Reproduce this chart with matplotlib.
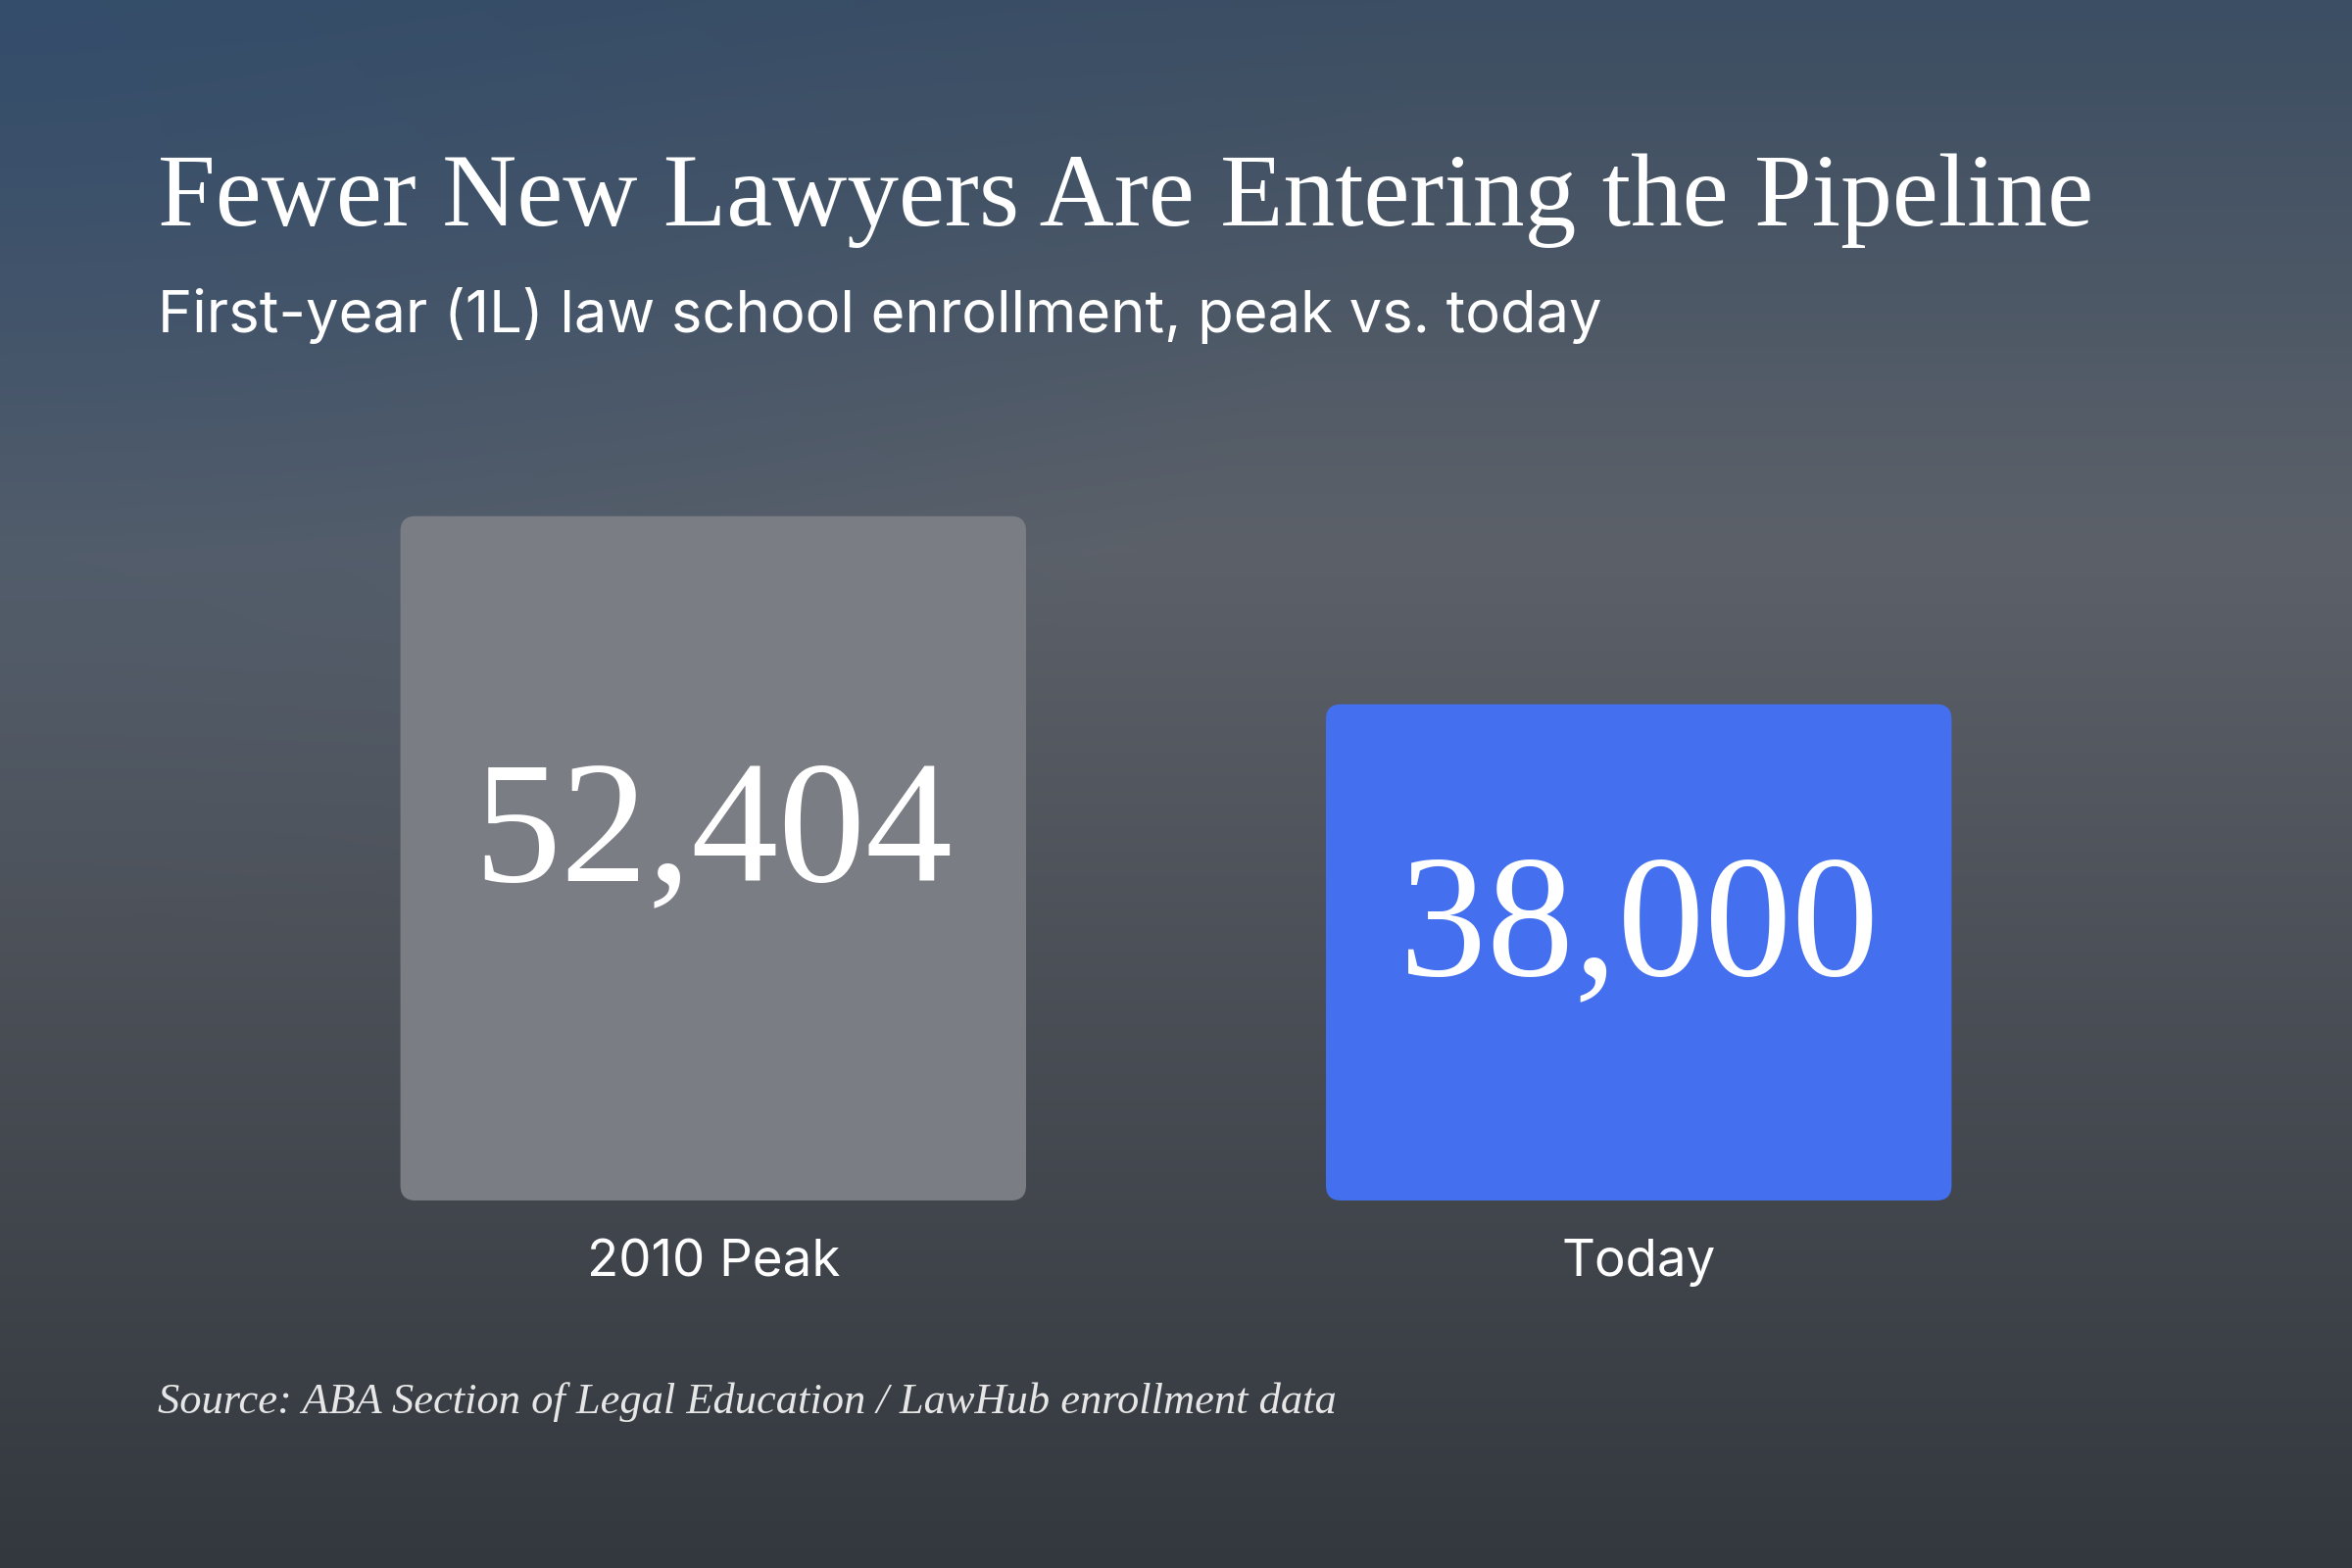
import numpy as np
import matplotlib
matplotlib.use("Agg")
import matplotlib.pyplot as plt
from matplotlib.patches import FancyBboxPatch

categories = ["2010 Peak", "Today"]
values = [52404, 38000]
value_labels = ["52,404", "38,000"]
bar_colors = ["#7a7d84", "#4470f0"]

fig = plt.figure(figsize=(12, 8), dpi=200)

bg = fig.add_axes([0, 0, 1, 1])
bg.set_axis_off()
h, w = 200, 300
yy, xx = np.mgrid[0:h, 0:w]
t = yy / h
top = np.array([0x3c, 0x4e, 0x63]) / 255
mid = np.array([0x5c, 0x61, 0x69]) / 255
bot = np.array([0x33, 0x37, 0x3e]) / 255
img = np.zeros((h, w, 3))
for c in range(3):
    img[..., c] = np.where(t < 0.35, top[c] + (mid[c] - top[c]) * t / 0.35,
                           mid[c] + (bot[c] - mid[c]) * (t - 0.35) / 0.65)
d = np.sqrt((xx / w) ** 2 + (yy / h) ** 2)
glow = np.clip(1 - d / 0.6, 0, 1)[..., None]
img = img * (1 - 0.5 * glow) + np.array([0x2c, 0x4c, 0x72]) / 255 * 0.5 * glow
bg.imshow(img, aspect="auto", extent=[0, 1, 0, 1], interpolation="bicubic")
bg.set_xlim(0, 1); bg.set_ylim(0, 1)

ax = fig.add_axes([0.1065, 0.2344, 0.787, 0.4364])
ax.set_axis_off()
ax.set_xlim(-0.5, 1.5)
ax.set_ylim(0, 52404)
bars = ax.bar(range(len(values)), values, width=0.676)
for b, col, lab in zip(bars, bar_colors, value_labels):
    b.set_visible(False)
    p = FancyBboxPatch((b.get_x(), 0), b.get_width(), b.get_height(),
                       boxstyle="round,pad=0,rounding_size=0.016",
                       mutation_aspect=1149 / 0.016, facecolor=col, edgecolor="none",
                       clip_on=False)
    ax.add_patch(p)
    ax.text(b.get_x() + b.get_width() / 2, b.get_height() / 2 + 1500, lab,
            ha="center", va="center", color="white", fontsize=64,
            family="Liberation Serif")
for i, c in enumerate(categories):
    ax.text(i, -5800, c, ha="center", va="baseline", color="white",
            fontsize=19, family="Inter")

fig.text(0.067, 0.856, "Fewer New Lawyers Are Entering the Pipeline", color="white",
         fontsize=38, family="Liberation Serif")
fig.text(0.067, 0.788, "First-year (1L) law school enrollment, peak vs. today",
         color="white", fontsize=21.5, family="Inter")
fig.text(0.067, 0.099, "Source: ABA Section of Legal Education / LawHub enrollment data",
         color="#e6e6e6", fontsize=16, family="Liberation Serif", style="italic")

fig.savefig("out.png", dpi=200)
